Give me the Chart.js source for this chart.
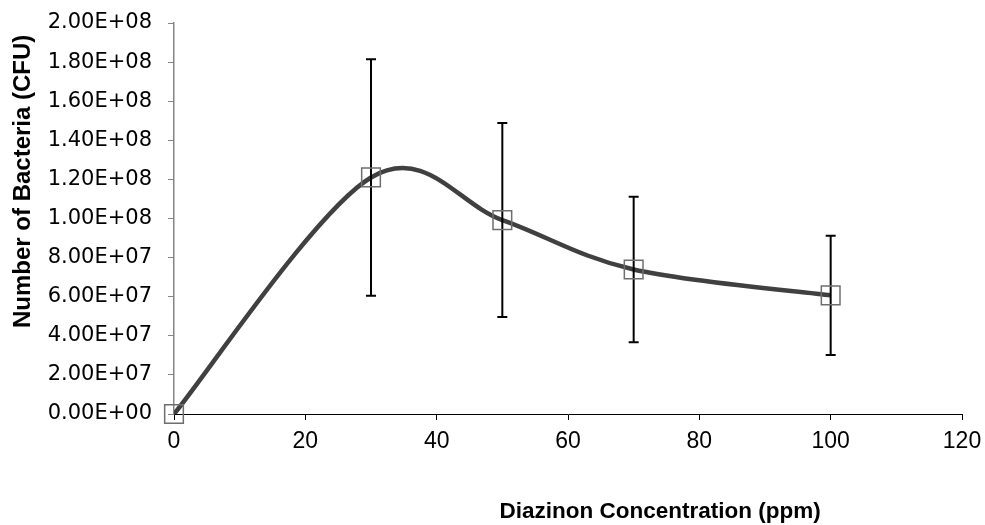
<!DOCTYPE html>
<html>
<head>
<meta charset="utf-8">
<script src="https://cdn.jsdelivr.net/npm/chart.js@4/dist/chart.umd.min.js"></script>
<style>
  html, body { margin: 0; padding: 0; background: #ffffff; }
  #wrap { width: 985px; height: 525px; }
</style>
</head>
<body>
<div id="wrap"><canvas id="c" width="985" height="525"></canvas></div>
<script>
// ---- data ----
const concentrations = [0, 30, 50, 70, 100];
const bacteriaCounts = [0, 1.21e8, 9.92e7, 7.39e7, 6.07e7];
const errorValues    = [0, 6.05e7, 4.96e7, 3.72e7, 3.05e7];
const xTitle = 'Diazinon Concentration (ppm)';
const yTitle = 'Number of Bacteria (CFU)';

function sciLabel(v) {
  if (v === 0) return '0.00E+00';
  const exp = Math.floor(Math.log10(Math.abs(v)) + 1e-9);
  const mant = v / Math.pow(10, exp);
  const e = (exp < 0 ? '-' : '+') + String(Math.abs(exp)).padStart(2, '0');
  return mant.toFixed(2) + 'E' + e;
}

const points = concentrations.map((x, i) => ({ x: x, y: bacteriaCounts[i] }));

// Spreadsheet-style smoothing (Catmull-Rom, 1/6 tangents) applied to the
// line element's control points, computed from the scale pixel positions.
const smoothPlugin = {
  id: 'smoothCurve',
  beforeDatasetDraw(chart, args) {
    if (args.index !== 1) return;
    const meta = chart.getDatasetMeta(1);
    meta.dataset.updateControlPoints(chart.chartArea, 'x');
    const pts = meta.data;
    const n = pts.length;
    for (let i = 0; i < n; i++) {
      const prev = pts[Math.max(i - 1, 0)];
      const next = pts[Math.min(i + 1, n - 1)];
      const dx = (next.x - prev.x) / 6;
      const dy = (next.y - prev.y) / 6;
      pts[i].cp1x = pts[i].x - dx;
      pts[i].cp1y = pts[i].y - dy;
      pts[i].cp2x = pts[i].x + dx;
      pts[i].cp2y = pts[i].y + dy;
    }
  }
};

const errorBarPlugin = {
  id: 'errorBars',
  afterDatasetDraw(chart, args) {
    if (args.index !== 1) return;
    const xs = chart.scales.x, ys = chart.scales.y;
    const ctx = chart.ctx;
    ctx.save();
    ctx.strokeStyle = '#000000';
    ctx.lineWidth = 2;
    concentrations.forEach((x, i) => {
      const e = errorValues[i];
      if (!e) return;
      const px = xs.getPixelForValue(x);
      const top = ys.getPixelForValue(bacteriaCounts[i] + e);
      const bot = ys.getPixelForValue(bacteriaCounts[i] - e);
      ctx.beginPath();
      ctx.moveTo(px, top); ctx.lineTo(px, bot);
      ctx.moveTo(px - 5, top); ctx.lineTo(px + 5, top);
      ctx.moveTo(px - 5, bot); ctx.lineTo(px + 5, bot);
      ctx.stroke();
    });
    ctx.restore();
  }
};

const axisTitlePlugin = {
  id: 'axisTitles',
  afterDraw(chart) {
    const ctx = chart.ctx;
    const a = chart.chartArea;
    ctx.save();
    ctx.fillStyle = '#000000';
    ctx.textAlign = 'center';
    ctx.textBaseline = 'middle';
    ctx.font = 'bold 22.5px "Liberation Sans", Arial, sans-serif';
    ctx.fillText(xTitle, a.left + (a.right - a.left) * 0.617, a.bottom + 98);
    ctx.translate(a.left - 151, a.top + (a.bottom - a.top) * 0.405);
    ctx.rotate(-Math.PI / 2);
    ctx.font = 'bold 24px "Liberation Sans", Arial, sans-serif';
    ctx.fillText(yTitle, 0, 0);
    ctx.restore();
  }
};

new Chart(document.getElementById('c'), {
  type: 'scatter',
  data: {
    datasets: [
      {
        label: 'points',
        data: points,
        showLine: false,
        clip: false,
        pointStyle: 'rect',
        pointRadius: 13.2,
        pointHoverRadius: 13.2,
        pointBorderColor: '#6e6e6e',
        pointBackgroundColor: 'rgba(0,0,0,0)',
        pointBorderWidth: 1.5
      },
      {
        label: 'curve',
        data: points,
        showLine: true,
        borderColor: '#404040',
        borderWidth: 4.5,
        tension: 0.4,
        capBezierPoints: false,
        pointRadius: 0,
        pointHoverRadius: 0,
        fill: false
      }
    ]
  },
  options: {
    responsive: false,
    animation: false,
    devicePixelRatio: 1,
    layout: { padding: { top: 23, right: 23, left: 0, bottom: 0 } },
    plugins: {
      legend: { display: false },
      tooltip: { enabled: false }
    },
    scales: {
      x: {
        type: 'linear',
        min: 0, max: 120,
        afterFit(s) { s.height = 111; s.paddingLeft = 0; s.paddingRight = 0; },
        ticks: {
          stepSize: 20,
          color: '#000000',
          padding: 8,
          font: { family: '"Liberation Sans", Arial, sans-serif', size: 23 },
          maxRotation: 0
        },
        grid: { drawOnChartArea: false, drawTicks: true, tickLength: 6, color: '#000000' },
        border: { display: true, color: '#000000', width: 1 }
      },
      y: {
        type: 'linear',
        min: 0, max: 2e8,
        afterFit(s) { s.width = 174; s.paddingTop = 0; s.paddingBottom = 0; },
        ticks: {
          stepSize: 2e7,
          color: '#000000',
          padding: 16,
          font: { family: '"DejaVu Sans", sans-serif', size: 21 },
          callback: (v) => sciLabel(v)
        },
        grid: { drawOnChartArea: false, drawTicks: true, tickLength: 6, color: '#868686' },
        border: { display: true, color: '#868686', width: 1.5 }
      }
    }
  },
  plugins: [smoothPlugin, errorBarPlugin, axisTitlePlugin]
});
</script>
</body>
</html>
